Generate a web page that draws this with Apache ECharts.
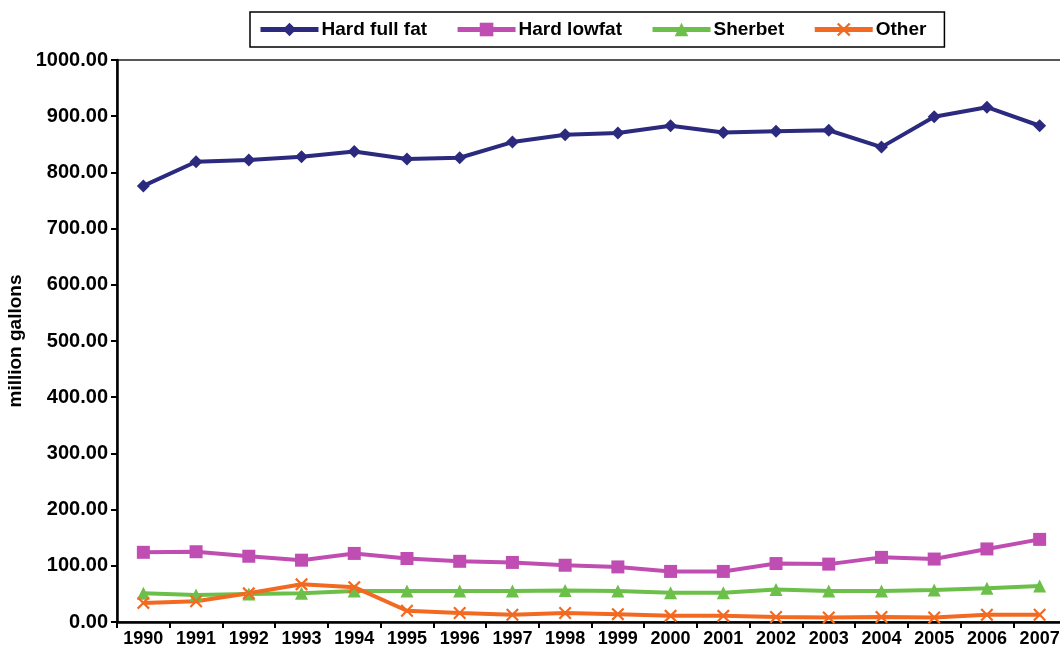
<!DOCTYPE html>
<html>
<head>
<meta charset="utf-8">
<script src="https://cdn.jsdelivr.net/npm/echarts@6/dist/echarts.min.js"></script>
<style>
  html, body { margin: 0; padding: 0; background: #fff; }
  #chart { width: 1060px; height: 647px; }
</style>
</head>
<body>
<div id="chart"></div>
<script>
const years = ['1990', '1991', '1992', '1993', '1994', '1995', '1996', '1997', '1998',
  '1999', '2000', '2001', '2002', '2003', '2004', '2005', '2006', '2007'];

const hardFullFat = [776, 819, 822, 828, 837, 824, 826, 854, 867, 870, 883, 871, 873, 875, 845, 899, 916, 883];
const hardLowfat  = [124, 125, 117, 110, 122, 113, 108, 106, 101, 98, 90, 90, 104, 103, 115, 112, 130, 147];
const sherbet     = [51, 48, 50, 51, 55, 55, 55, 55, 56, 55, 52, 52, 58, 55, 55, 57, 60, 64];
const other       = [34, 37, 51, 67, 62, 20, 16, 13, 16, 14, 11, 11, 9, 8, 9, 8, 13, 13];

const FONT = '"Liberation Sans", Arial, sans-serif';
const crossPath = 'path://M0,1.2 L1.2,0 L5,3.8 L8.8,0 L10,1.2 L6.2,5 L10,8.8 L8.8,10 L5,6.2 L1.2,10 L0,8.8 L3.8,5 Z';

function lineSeries(name, data, colour, symbol, size) {
  return {
    name: name,
    type: 'line',
    data: data,
    symbol: symbol,
    symbolSize: size,
    color: colour,
    lineStyle: { width: 4, color: colour },
    itemStyle: { color: colour }
  };
}

const chart = echarts.init(document.getElementById('chart'));
chart.setOption({
  animation: false,
  textStyle: { fontFamily: FONT },
  legend: {
    left: 250,
    top: 12,
    padding: [8, 18, 8, 8],
    itemGap: 28,
    itemWidth: 58,
    itemHeight: 17,
    lineStyle: { width: 5 },
    borderColor: '#000',
    borderWidth: 1.5,
    textStyle: { fontFamily: FONT, fontSize: 19, fontWeight: 'bold', color: '#000', padding: [0, 0, 0, -2] }
  },
  grid: {
    left: 117,
    top: 60,
    width: 949,
    bottom: 25,
    show: true,
    borderColor: '#222',
    borderWidth: 1.5,
    containLabel: false,
    outerBoundsMode: 'none'
  },
  xAxis: {
    type: 'category',
    data: years,
    boundaryGap: true,
    axisLine: { lineStyle: { color: '#000', width: 2.5 } },
    axisTick: { show: true, length: 6, lineStyle: { color: '#000', width: 2 } },
    axisLabel: { color: '#000', fontSize: 18, fontWeight: 'bold', margin: 8, interval: 0 }
  },
  yAxis: {
    type: 'value',
    min: 0,
    max: 1000,
    interval: 100,
    name: 'million gallons',
    nameLocation: 'middle',
    nameGap: 88,
    nameTextStyle: { color: '#000', fontSize: 19, fontWeight: 'bold' },
    axisLine: { show: true, lineStyle: { color: '#000', width: 2.5 } },
    axisTick: { show: true, length: 6, lineStyle: { color: '#000', width: 2 } },
    axisLabel: {
      color: '#000', fontSize: 20, fontWeight: 'bold', margin: 9,
      formatter: v => v.toFixed(2)
    },
    splitLine: { show: false }
  },
  series: [
    lineSeries('Hard full fat', hardFullFat, '#2B2A7E', 'diamond', 13),
    lineSeries('Hard lowfat', hardLowfat, '#C04EB2', 'rect', 13),
    lineSeries('Sherbet', sherbet, '#6CC04A', 'triangle', 13),
    lineSeries('Other', other, '#F26A21', crossPath, 13)
  ]
});
</script>
</body>
</html>
